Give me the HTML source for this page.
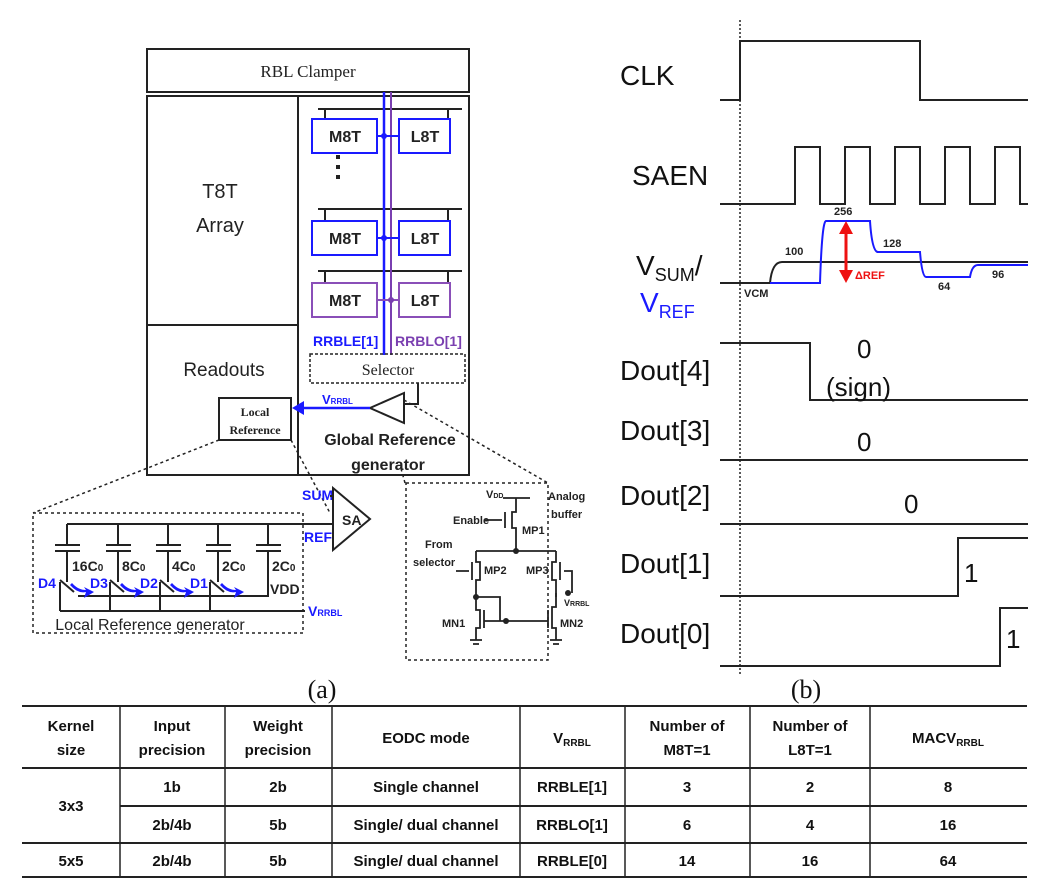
<!DOCTYPE html>
<html><head><meta charset="utf-8"><style>
html,body{margin:0;padding:0;background:#fff;}
svg{display:block;}
text{font-family:"Liberation Sans",Arial,sans-serif;}
.serif{font-family:"Liberation Serif",serif;}
</style></head><body>
<svg width="1047" height="888" viewBox="0 0 1047 888" xmlns="http://www.w3.org/2000/svg">
<g fill="none" stroke="#222" stroke-width="2">
<!-- left block -->
<rect x="147" y="49" width="322" height="43"/>
<rect x="147" y="96" width="322" height="379"/>
<line x1="298" y1="96" x2="298" y2="475"/>
<line x1="147" y1="325" x2="298" y2="325"/>
<!-- row bars -->
<path d="M318 109H462M325 109V119M448 109V119"/>
<path d="M318 209H462M325 209V221M448 209V221"/>
<path d="M318 271H462M325 271V283M448 271V283"/>
</g>
<text x="308" y="77" class="serif" font-size="17" text-anchor="middle" fill="#222">RBL Clamper</text>
<text x="220" y="198" font-size="20" text-anchor="middle" fill="#222">T8T</text>
<text x="220" y="232" font-size="20" text-anchor="middle" fill="#222">Array</text>
<text x="224" y="376" font-size="19" text-anchor="middle" fill="#222">Readouts</text>
<!-- bitlines -->
<line x1="384" y1="92" x2="384" y2="355" stroke="#1a1aff" stroke-width="2.5"/>
<line x1="391" y1="92" x2="391" y2="355" stroke="#7a3fb0" stroke-width="2"/>
<g stroke="#1a1aff" stroke-width="2" fill="none">
<rect x="312" y="119" width="65" height="34"/><rect x="399" y="119" width="51" height="34"/>
<rect x="312" y="221" width="65" height="34"/><rect x="399" y="221" width="51" height="34"/>
<path d="M377 136H399M377 238H399"/>
</g>
<circle cx="384" cy="136" r="3" fill="#1a1aff"/><circle cx="384" cy="238" r="3" fill="#1a1aff"/>
<g stroke="#8a4fb8" stroke-width="2" fill="none">
<rect x="312" y="283" width="65" height="34"/><rect x="399" y="283" width="51" height="34"/>
<path d="M377 300H399"/>
</g>
<circle cx="391" cy="300" r="3" fill="#7a3fb0"/>
<g font-size="16" font-weight="bold" fill="#222" text-anchor="middle">
<text x="345" y="142">M8T</text><text x="425" y="142">L8T</text>
<text x="345" y="244">M8T</text><text x="425" y="244">L8T</text>
<text x="345" y="306">M8T</text><text x="425" y="306">L8T</text>
</g>
<g fill="#222"><rect x="336" y="155" width="4" height="4"/><rect x="336" y="165" width="4" height="4"/><rect x="336" y="175" width="4" height="4"/></g>
<text x="313" y="346" font-size="14" font-weight="bold" fill="#1a1aff">RRBLE[1]</text>
<text x="395" y="346" font-size="14" font-weight="bold" fill="#7a3fb0">RRBLO[1]</text>
<rect x="310" y="354" width="155" height="29" fill="none" stroke="#222" stroke-width="1.5" stroke-dasharray="3,2"/>
<text x="388" y="375" class="serif" font-size="16" text-anchor="middle" fill="#222">Selector</text>
<!-- global ref -->
<path d="M418 383V404H404" fill="none" stroke="#222" stroke-width="2"/>
<path d="M404 393L370 408L404 423Z" fill="#fff" stroke="#222" stroke-width="2"/>
<line x1="370" y1="408" x2="298" y2="408" stroke="#1a1aff" stroke-width="2.5"/>
<path d="M292 408L304 401L304 415Z" fill="#1a1aff"/>
<text x="322" y="404" font-size="13" font-weight="bold" fill="#1a1aff">V<tspan font-size="8">RRBL</tspan></text>
<text x="390" y="445" font-size="16" font-weight="bold" text-anchor="middle" fill="#222">Global Reference</text>
<text x="388" y="470" font-size="16" font-weight="bold" text-anchor="middle" fill="#222">generator</text>
<rect x="219" y="398" width="72" height="42" fill="#fff" stroke="#222" stroke-width="2"/>
<text x="255" y="416" class="serif" font-size="12" font-weight="bold" text-anchor="middle" fill="#222">Local</text>
<text x="255" y="434" class="serif" font-size="12" font-weight="bold" text-anchor="middle" fill="#222">Reference</text>
<!-- zoom dashed lines -->
<g stroke="#222" stroke-width="1.5" stroke-dasharray="3,3" fill="none">
<path d="M219 440L33 513M291 440L330 513M404 400L548 483M405 483L400 465"/>
<rect x="33" y="513" width="270" height="120"/>
<rect x="406" y="483" width="142" height="177"/>
</g>
<!-- local ref generator -->
<g stroke="#222" stroke-width="2" fill="none">
<path d="M67 524H333"/>
<path d="M67 524V545M118 524V545M168 524V545M218 524V545M268 524V545"/>
<path d="M55 545H80M55 551H80M106 545H131M106 551H131M156 545H181M156 551H181M206 545H231M206 551H231M256 545H281M256 551H281"/>
<path d="M67 551V582M118 551V582M168 551V582M218 551V582M268 551V596H78"/>
<path d="M60 611H305M60 582V611M110 582V611M160 582V611M210 582V611"/>
<path d="M60 580L74 592M110 580L124 592M160 580L174 592M210 580L224 592"/>
</g>
<g fill="#1a1aff"><path d="M70 585Q78 594 86 592L84 598L94 592L84 587L86 590Q78 590 72 583Z"/>
<path d="M120 585Q128 594 136 592L134 598L144 592L134 587L136 590Q128 590 122 583Z"/>
<path d="M170 585Q178 594 186 592L184 598L194 592L184 587L186 590Q178 590 172 583Z"/>
<path d="M220 585Q228 594 236 592L234 598L244 592L234 587L236 590Q228 590 222 583Z"/></g>
<g font-size="14" font-weight="bold" fill="#222">
<text x="72" y="571">16C<tspan font-size="10">0</tspan></text><text x="122" y="571">8C<tspan font-size="10">0</tspan></text>
<text x="172" y="571">4C<tspan font-size="10">0</tspan></text><text x="222" y="571">2C<tspan font-size="10">0</tspan></text>
<text x="272" y="571">2C<tspan font-size="10">0</tspan></text><text x="270" y="594">VDD</text>
</g>
<g font-size="14" font-weight="bold" fill="#1a1aff">
<text x="38" y="588">D4</text><text x="90" y="588">D3</text><text x="140" y="588">D2</text><text x="190" y="588">D1</text>
<text x="308" y="616">V<tspan font-size="9">RRBL</tspan></text>
<text x="302" y="500">SUM</text><text x="304" y="542">REF</text>
</g>
<text x="150" y="630" font-size="16" text-anchor="middle" fill="#222">Local Reference generator</text>
<path d="M330 496H333M333 488L370 519L333 550Z" fill="#fff" stroke="#222" stroke-width="2"/>
<text x="342" y="525" font-size="14" font-weight="bold" fill="#222">SA</text>
<!-- analog buffer -->
<g stroke="#222" stroke-width="1.8" fill="none">
<path d="M503 498H530M516 498V512H512V528H516V551"/>
<path d="M505 512V528M485 520H502"/>
<path d="M476 551H556M476 551V562H480V580H476V597M556 551V562H552V580H556V597"/>
<path d="M472 562V580M456 571H469M560 562V580M564 571H572V593"/>
<path d="M476 597H500V621M556 593V607H552V628H556V640M476 597V610H480V628H476V640"/>
<path d="M484 610V628M548 610V628M484 621H548"/>
<path d="M470 640H482M473 644H479M550 640H562M553 644H559"/>
</g>
<g fill="#222"><circle cx="516" cy="551" r="3"/><circle cx="476" cy="597" r="3"/><circle cx="506" cy="621" r="3"/><circle cx="568" cy="593" r="3"/></g>
<g font-size="11" font-weight="bold" fill="#222">
<text x="486" y="498">V<tspan font-size="7">DD</tspan></text><text x="548" y="500">Analog</text><text x="551" y="518">buffer</text>
<text x="453" y="524">Enable</text><text x="522" y="534">MP1</text>
<text x="425" y="548">From</text><text x="413" y="566">selector</text>
<text x="484" y="574">MP2</text><text x="526" y="574">MP3</text>
<text x="564" y="606" font-size="9">V<tspan font-size="7">RRBL</tspan></text>
<text x="442" y="627">MN1</text><text x="560" y="627">MN2</text>
</g>
<text x="322" y="698" class="serif" font-size="26" text-anchor="middle" fill="#111">(a)</text>
<text x="806" y="698" class="serif" font-size="26" text-anchor="middle" fill="#111">(b)</text>
<!-- waveforms -->
<line x1="740" y1="20" x2="740" y2="675" stroke="#222" stroke-width="1.5" stroke-dasharray="2,2"/>
<g fill="none" stroke="#222" stroke-width="2">
<path d="M720 100H740V41H920V100H1028"/>
<path d="M720 204H795V147H820V204H845V147H870V204H895V147H920V204H945V147H970V204H995V147H1020V204H1028"/>
<path d="M720 283H770Q772 262 782 262H1028"/>
<path d="M720 343H810V400H1028"/>
<path d="M720 460H1028"/>
<path d="M720 524H1028"/>
<path d="M720 596H958V538H1028"/>
<path d="M720 666H1000V608H1028"/>
</g>
<path d="M770 283H820Q822 221 826 221H870Q872 252 878 252H920Q922 277 926 277H970Q972 265 978 265H1028" fill="none" stroke="#1a1aff" stroke-width="2"/>
<path d="M846 230V274" stroke="#ee1111" stroke-width="3"/>
<path d="M846 221L839 234H853ZM846 283L839 270H853Z" fill="#ee1111"/>
<g font-size="11" font-weight="bold" fill="#222">
<text x="834" y="215">256</text><text x="785" y="255">100</text><text x="883" y="247">128</text>
<text x="938" y="290">64</text><text x="992" y="278">96</text><text x="744" y="297">VCM</text>
</g>
<text x="855" y="279" font-size="11" font-weight="bold" fill="#ee1111">ΔREF</text>
<g font-size="28" fill="#111">
<text x="620" y="85">CLK</text><text x="632" y="185">SAEN</text>
<text x="636" y="275">V<tspan font-size="18" dy="6">SUM</tspan><tspan dy="-6">/</tspan></text>
<text x="640" y="312" fill="#1a1aff">V<tspan font-size="18" dy="6">REF</tspan></text>
<text x="620" y="380">Dout[4]</text><text x="620" y="440">Dout[3]</text><text x="620" y="505">Dout[2]</text>
<text x="620" y="573">Dout[1]</text><text x="620" y="643">Dout[0]</text>
</g>
<g font-size="26" fill="#111">
<text x="857" y="358">0</text><text x="826" y="396">(sign)</text><text x="857" y="451">0</text>
<text x="904" y="513">0</text><text x="964" y="582">1</text><text x="1006" y="648">1</text>
</g>
<!-- table -->
<g stroke="#222" fill="none">
<path d="M22 706H1027M22 768H1027M120 806H1027M22 843H1027M22 877H1027" stroke-width="2"/>
<path d="M120 706V877M225 706V877M332 706V877M520 706V877M625 706V877M750 706V877M870 706V877" stroke-width="1.5"/>
</g>
<g font-size="15" font-weight="bold" fill="#111" text-anchor="middle">
<text x="71" y="731">Kernel</text><text x="71" y="755">size</text>
<text x="172" y="731">Input</text><text x="172" y="755">precision</text>
<text x="278" y="731">Weight</text><text x="278" y="755">precision</text>
<text x="426" y="743">EODC mode</text>
<text x="572" y="743">V<tspan font-size="10" dy="3">RRBL</tspan></text>
<text x="687" y="731">Number of</text><text x="687" y="755">M8T=1</text>
<text x="810" y="731">Number of</text><text x="810" y="755">L8T=1</text>
<text x="948" y="743">MACV<tspan font-size="10" dy="3">RRBL</tspan></text>
<text x="71" y="811">3x3</text>
<text x="172" y="792">1b</text><text x="278" y="792">2b</text><text x="426" y="792">Single channel</text><text x="572" y="792">RRBLE[1]</text><text x="687" y="792">3</text><text x="810" y="792">2</text><text x="948" y="792">8</text>
<text x="172" y="830">2b/4b</text><text x="278" y="830">5b</text><text x="426" y="830">Single/ dual channel</text><text x="572" y="830">RRBLO[1]</text><text x="687" y="830">6</text><text x="810" y="830">4</text><text x="948" y="830">16</text>
<text x="71" y="866">5x5</text><text x="172" y="866">2b/4b</text><text x="278" y="866">5b</text><text x="426" y="866">Single/ dual channel</text><text x="572" y="866">RRBLE[0]</text><text x="687" y="866">14</text><text x="810" y="866">16</text><text x="948" y="866">64</text>
</g>
</svg>
</body></html>
